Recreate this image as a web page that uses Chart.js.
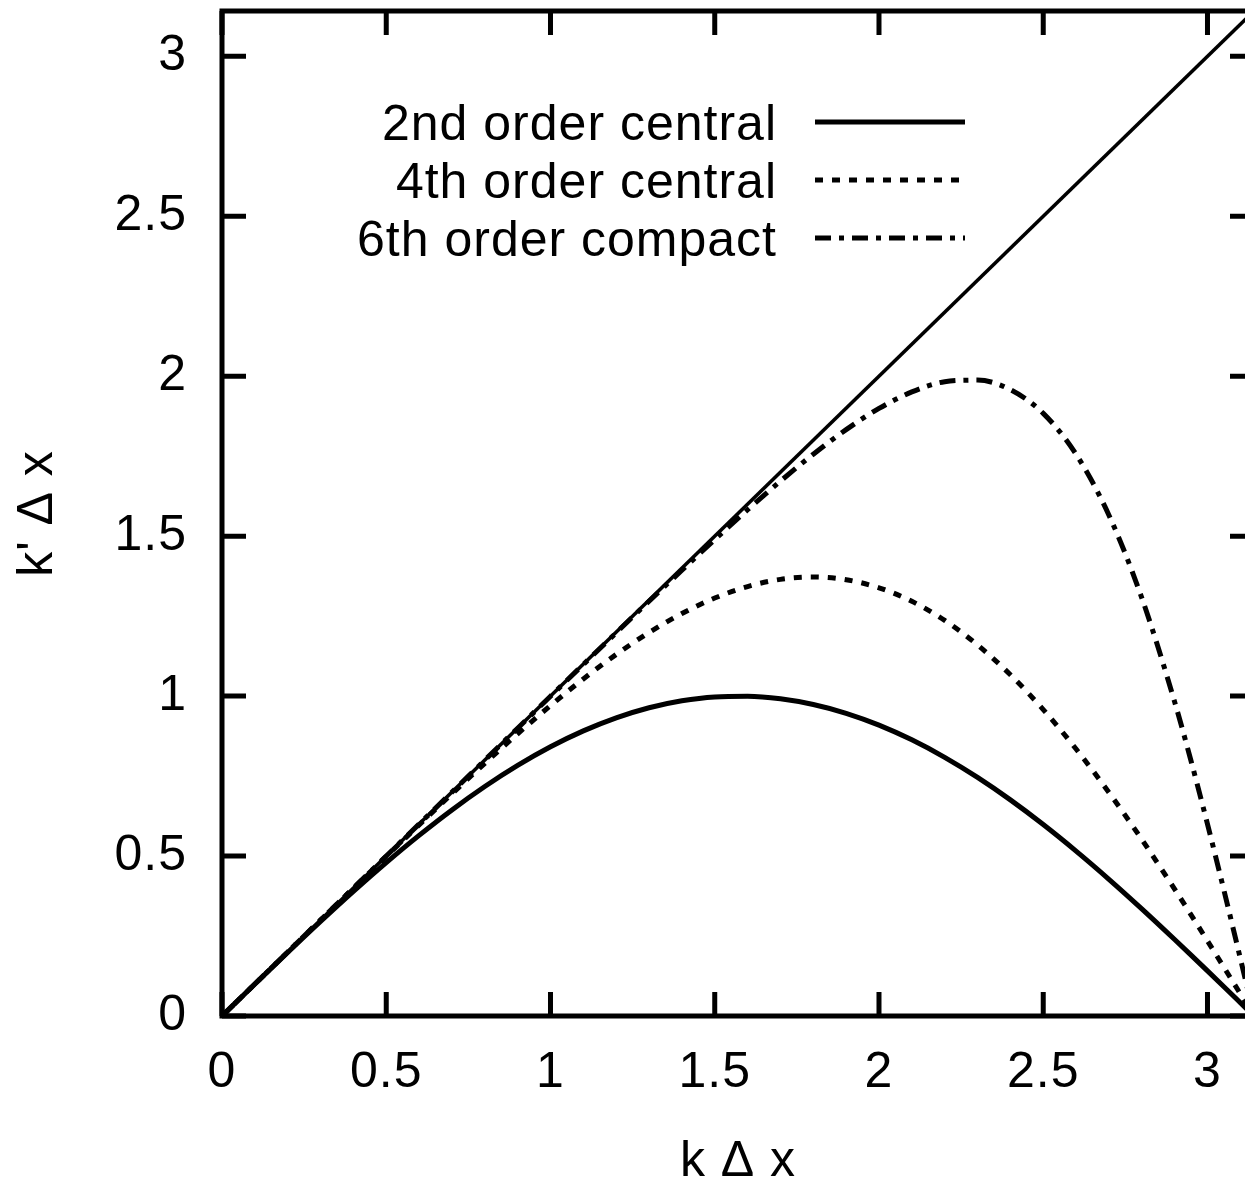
<!DOCTYPE html>
<html>
<head>
<meta charset="utf-8">
<title>Modified wavenumber</title>
<script src="https://cdn.jsdelivr.net/npm/chart.js@4.4.0/dist/chart.umd.min.js"></script>
<style>
  html, body { margin: 0; padding: 0; background: #fff; overflow: hidden; }
  #wrap { position: relative; width: 1270px; height: 1187px; }
</style>
</head>
<body>
<div id="wrap"><canvas id="chart"></canvas></div>
<script>
// wavenumber samples k*dx and the modified wavenumber k'*dx of each scheme
const kdx = [0, 0.1, 0.2, 0.3, 0.4, 0.5, 0.6, 0.7, 0.8, 0.9, 1.0, 1.1, 1.2, 1.3, 1.4,
  1.5, 1.6, 1.7, 1.8, 1.9, 2.0, 2.1, 2.2, 2.3, 2.4, 2.5, 2.6, 2.7, 2.8, 2.9, 2.95,
  3.0, 3.05, 3.1, 3.14159];
const central2 = [0, 0.0998, 0.1987, 0.2955, 0.3894, 0.4794, 0.5646, 0.6442, 0.7174,
  0.7833, 0.8415, 0.8912, 0.9320, 0.9636, 0.9854, 0.9975, 0.9996, 0.9917, 0.9738,
  0.9463, 0.9093, 0.8632, 0.8085, 0.7457, 0.6755, 0.5985, 0.5155, 0.4274, 0.3350,
  0.2392, 0.1904, 0.1411, 0.0915, 0.0416, 0];
const central4 = [0, 0.1000, 0.2000, 0.2999, 0.3996, 0.4990, 0.5975, 0.6947, 0.7899,
  0.8821, 0.9705, 1.0535, 1.1301, 1.1989, 1.2580, 1.3065, 1.3425, 1.3649, 1.3722,
  1.3637, 1.3385, 1.2962, 1.2366, 1.1599, 1.0667, 0.9578, 0.8346, 0.6987, 0.5519,
  0.3964, 0.3162, 0.2347, 0.1523, 0.0693, 0];
const compact6 = [0, 0.1000, 0.2000, 0.3000, 0.4000, 0.5000, 0.5999, 0.6998, 0.7999,
  0.8997, 0.9995, 1.0989, 1.1979, 1.2964, 1.3935, 1.4893, 1.5825, 1.6720, 1.7562,
  1.8331, 1.8993, 1.9509, 1.9827, 1.9878, 1.9580, 1.8838, 1.7559, 1.5655, 1.3070,
  0.9819, 0.7972, 0.5999, 0.3932, 0.1800, 0];
// exact differentiation, k' = k
const exactX = [0, 3.14159];
const exactY = [0, 3.14159];

const seriesNames = ["2nd order central", "4th order central", "6th order compact"];
const xTickValues = [0, 0.5, 1, 1.5, 2, 2.5, 3];
const xTickLabels = ["0", "0.5", "1", "1.5", "2", "2.5", "3"];
const yTickValues = [0, 0.5, 1, 1.5, 2, 2.5, 3];
const yTickLabels = ["0", "0.5", "1", "1.5", "2", "2.5", "3"];

const FONT = '"Liberation Sans", Arial, sans-serif';
const TICK_LEN = 24;

function points(xs, ys) {
  return xs.map((x, i) => ({ x: x, y: ys[i] }));
}

// gnuplot-like frame: box border with inward ticks on all four sides
const frameTicks = {
  id: "frameTicks",
  beforeDraw(chart) {
    chart.ctx.letterSpacing = "1px";
  },
  afterDatasetsDraw(chart) {
    const { ctx, chartArea: a, scales } = chart;
    ctx.save();
    ctx.strokeStyle = "#000";
    ctx.lineWidth = 5;
    ctx.lineCap = "butt";
    ctx.beginPath();
    xTickValues.forEach((v) => {
      const px = scales.x.getPixelForValue(v);
      ctx.moveTo(px, a.bottom);
      ctx.lineTo(px, a.bottom - TICK_LEN);
      ctx.moveTo(px, a.top);
      ctx.lineTo(px, a.top + TICK_LEN);
    });
    yTickValues.forEach((v) => {
      const py = scales.y.getPixelForValue(v);
      ctx.moveTo(a.left, py);
      ctx.lineTo(a.left + TICK_LEN, py);
      ctx.moveTo(a.right, py);
      ctx.lineTo(a.right - TICK_LEN, py);
    });
    ctx.stroke();
    ctx.strokeRect(a.left, a.top, a.right - a.left, a.bottom - a.top);
    ctx.restore();
  },
};

// key with right-aligned titles and the line sample to their right
const keyBox = {
  id: "keyBox",
  afterDraw(chart) {
    const ctx = chart.ctx;
    ctx.save();
    ctx.font = "50px " + FONT;
    ctx.fillStyle = "#000";
    ctx.textAlign = "right";
    ctx.textBaseline = "alphabetic";
    seriesNames.forEach((name, i) => {
      const ds = chart.data.datasets[i + 1];
      const rowY = 122 + i * 58;
      ctx.fillText(name, 777, rowY + 18);
      ctx.beginPath();
      ctx.setLineDash(ds.borderDash || []);
      ctx.lineWidth = ds.borderWidth;
      ctx.strokeStyle = ds.borderColor;
      ctx.moveTo(815, rowY);
      ctx.lineTo(965, rowY);
      ctx.stroke();
    });
    ctx.restore();
  },
};

// fixed scale boxes so the plot frame sits where it should
function noPadding(s) {
  s.paddingTop = 0;
  s.paddingBottom = 0;
  s.paddingLeft = 0;
  s.paddingRight = 0;
}

new Chart(document.getElementById("chart"), {
  type: "line",
  data: {
    datasets: [
      {
        label: "exact",
        data: points(exactX, exactY),
        borderColor: "#000",
        borderWidth: 3.5,
      },
      {
        label: seriesNames[0],
        data: points(kdx, central2),
        borderColor: "#000",
        borderWidth: 5,
        cubicInterpolationMode: "monotone",
      },
      {
        label: seriesNames[1],
        data: points(kdx, central4),
        borderColor: "#000",
        borderWidth: 5,
        borderDash: [8, 9],
        cubicInterpolationMode: "monotone",
      },
      {
        label: seriesNames[2],
        data: points(kdx, compact6),
        borderColor: "#000",
        borderWidth: 5,
        borderDash: [16, 8, 5, 8],
        cubicInterpolationMode: "monotone",
      },
    ],
  },
  options: {
    responsive: true,
    maintainAspectRatio: false,
    animation: false,
    layout: { padding: { top: 11, right: 16, left: 0, bottom: 0 } },
    elements: { point: { radius: 0 }, line: { borderCapStyle: "butt" } },
    plugins: {
      legend: { display: false },
      tooltip: { enabled: false },
    },
    scales: {
      x: {
        type: "linear",
        min: 0,
        max: Math.PI,
        grid: { display: false, drawTicks: false },
        border: { display: false },
        afterBuildTicks: (s) => {
          s.ticks = xTickValues.map((v) => ({ value: v }));
        },
        afterFit: (s) => {
          s.height = 171;
          noPadding(s);
        },
        ticks: {
          autoSkip: false,
          maxRotation: 0,
          padding: 32,
          color: "#000",
          font: { family: FONT, size: 50, lineHeight: 1 },
          callback: (v) => xTickLabels[xTickValues.indexOf(v)],
        },
        title: {
          display: true,
          text: "k \u0394 x",
          color: "#000",
          font: { family: FONT, size: 50, lineHeight: 1 },
          padding: { top: 0, bottom: 0 },
        },
      },
      y: {
        type: "linear",
        min: 0,
        max: Math.PI,
        grid: { display: false, drawTicks: false },
        border: { display: false },
        afterBuildTicks: (s) => {
          s.ticks = yTickValues.map((v) => ({ value: v }));
        },
        afterFit: (s) => {
          s.width = 222;
          noPadding(s);
        },
        ticks: {
          autoSkip: false,
          padding: 35,
          color: "#000",
          font: { family: FONT, size: 50, lineHeight: 1 },
          callback: (v) => yTickLabels[yTickValues.indexOf(v)],
        },
        title: {
          display: true,
          text: "k' \u0394 x",
          color: "#000",
          font: { family: FONT, size: 50, lineHeight: 1 },
          padding: { top: 13, bottom: 0 },
        },
      },
    },
  },
  plugins: [frameTicks, keyBox],
});
</script>
</body>
</html>
